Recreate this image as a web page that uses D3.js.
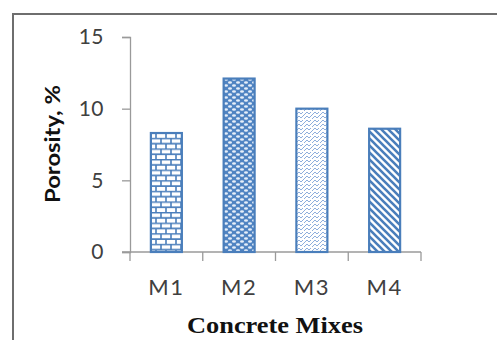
<!DOCTYPE html>
<html>
<head>
<meta charset="utf-8">
<script src="https://cdn.jsdelivr.net/npm/d3@7"></script>
<style>
  html, body { margin: 0; padding: 0; background: #fff; }
  svg { display: block; }
</style>
</head>
<body>
<svg id="chart" width="497" height="340"></svg>
<script>
// Porosity of each concrete mix
const categories = ["M1", "M2", "M3", "M4"];
const porosity = [8.3, 12.1, 10.0, 8.6];
const yTicks = [0, 5, 10, 15];
const fillIds = ["brick", "divot", "weave", "stripe"];

const svg = d3.select("#chart");
const blue = "#4a7ebb";

// Frame around the chart area
svg.append("rect")
  .attr("x", 13).attr("y", 14)
  .attr("width", 600).attr("height", 400)
  .attr("fill", "none")
  .attr("stroke", "#6e6e6e")
  .attr("stroke-width", 2);

// Hatch fills for the bars
const defs = svg.append("defs");

const brick = defs.append("pattern").attr("id", "brick")
  .attr("patternUnits", "userSpaceOnUse").attr("width", 10).attr("height", 10.6);
brick.append("rect").attr("width", 10).attr("height", 10.6).attr("fill", "#fff");
brick.append("path")
  .attr("d", "M0,0.6H10M0,5.9H10M1,0.6V5.9M6,5.9V11.2")
  .attr("stroke", blue).attr("stroke-width", 1.6).attr("fill", "none");

const divot = defs.append("pattern").attr("id", "divot")
  .attr("patternUnits", "userSpaceOnUse").attr("width", 8).attr("height", 6);
divot.append("rect").attr("width", 8).attr("height", 6).attr("fill", "#4f83c2");
divot.append("ellipse").attr("cx", 2).attr("cy", 1.5).attr("rx", 2).attr("ry", 1.3).attr("fill", "#e6eef9");
divot.append("ellipse").attr("cx", 6).attr("cy", 4.5).attr("rx", 2).attr("ry", 1.3).attr("fill", "#e6eef9");

const weave = defs.append("pattern").attr("id", "weave")
  .attr("patternUnits", "userSpaceOnUse").attr("width", 8).attr("height", 8);
weave.append("rect").attr("width", 8).attr("height", 8).attr("fill", "#fff");
weave.append("path")
  .attr("d", "M0,7 L3,4 L5,6 L8,3 M0,3 L3,0 M5,2 L8,-1 M3,0 L5,2")
  .attr("stroke", "#8eaedc").attr("stroke-width", 1).attr("fill", "none");

const stripe = defs.append("pattern").attr("id", "stripe")
  .attr("patternUnits", "userSpaceOnUse").attr("width", 7).attr("height", 7);
stripe.append("rect").attr("width", 7).attr("height", 7).attr("fill", "#fff");
stripe.append("path")
  .attr("d", "M-1,-1 L8,8 M-4.5,2.5 L4.5,11.5 M2.5,-4.5 L11.5,4.5")
  .attr("stroke", blue).attr("stroke-width", 2.6).attr("fill", "none");

// Scales
const x = d3.scaleBand()
  .domain(categories)
  .range([130, 421])
  .paddingInner(0.574)
  .paddingOuter(0.287);

const y = d3.scaleLinear().domain([0, 15]).range([252, 37]);

// Y axis
const yAxis = svg.append("g")
  .attr("transform", "translate(130,0)")
  .call(d3.axisLeft(y).tickValues(yTicks).tickSize(8).tickPadding(18).tickFormat(d3.format("d")));
yAxis.select(".domain").attr("stroke", "#9a9a9a").attr("stroke-width", 1.3);
yAxis.selectAll(".tick line").attr("stroke", "#9a9a9a").attr("stroke-width", 1.3);
yAxis.selectAll(".tick text")
  .attr("fill", "#404040")
  .style("font-family", "Lato, 'Open Sans', sans-serif")
  .style("font-size", "21px")
  .style("letter-spacing", "0.5px");

// X axis: ticks sit on category boundaries
const boundaries = d3.range(categories.length + 1).map(i => 130 + i * x.step());
const xg = svg.append("g");
xg.append("line")
  .attr("x1", 122).attr("x2", 421).attr("y1", y(0)).attr("y2", y(0))
  .attr("stroke", "#9a9a9a").attr("stroke-width", 1.3);
xg.selectAll("line.bt").data(boundaries).join("line")
  .attr("class", "bt")
  .attr("x1", d => d).attr("x2", d => d)
  .attr("y1", y(0)).attr("y2", y(0) + 9)
  .attr("stroke", "#9a9a9a").attr("stroke-width", 1.3);
xg.selectAll("text").data(categories).join("text")
  .attr("x", d => x(d) + x.bandwidth() / 2)
  .attr("y", 295)
  .attr("text-anchor", "middle")
  .attr("fill", "#404040")
  .style("font-family", "Lato, 'Open Sans', sans-serif")
  .style("font-size", "22px")
  .style("letter-spacing", "1.5px")
  .text(d => d);

// Bars
svg.append("g").selectAll("rect")
  .data(categories)
  .join("rect")
  .attr("x", d => x(d))
  .attr("y", (d, i) => y(porosity[i]))
  .attr("width", x.bandwidth())
  .attr("height", (d, i) => y(0) - y(porosity[i]))
  .attr("fill", (d, i) => `url(#${fillIds[i]})`)
  .attr("stroke", blue)
  .attr("stroke-width", 2.2);

// Axis titles
svg.append("text")
  .attr("transform", "translate(60,144) rotate(-90)")
  .attr("text-anchor", "middle")
  .attr("fill", "#111")
  .attr("textLength", 118)
  .attr("lengthAdjust", "spacingAndGlyphs")
  .style("font-family", "Lato, 'Open Sans', sans-serif")
  .style("font-weight", "bold")
  .style("font-size", "21px")
  .text("Porosity, %");

svg.append("text")
  .attr("x", 275)
  .attr("y", 333)
  .attr("text-anchor", "middle")
  .attr("fill", "#111")
  .attr("textLength", 176)
  .attr("lengthAdjust", "spacingAndGlyphs")
  .style("font-family", "'Liberation Serif', 'Times New Roman', serif")
  .style("font-weight", "bold")
  .style("font-size", "24px")
  .text("Concrete Mixes");
</script>
</body>
</html>
